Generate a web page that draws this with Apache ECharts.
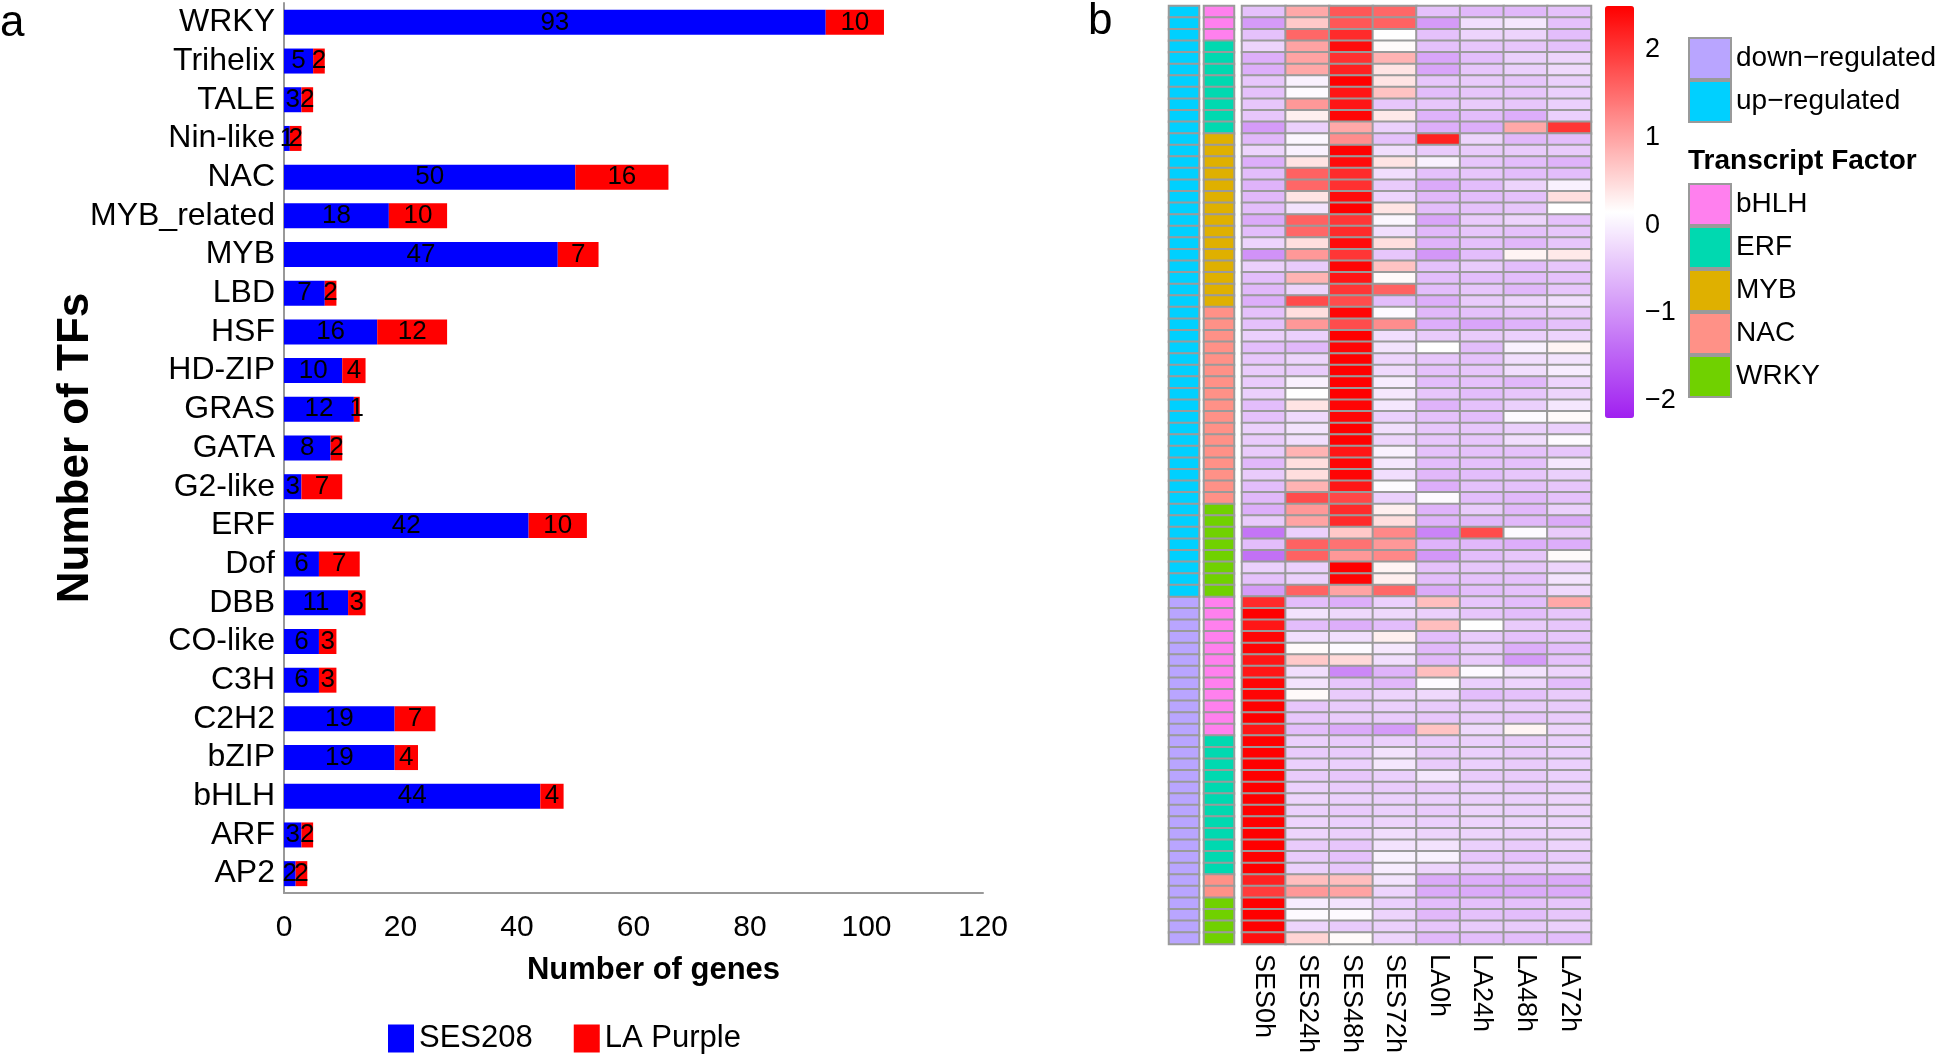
<!DOCTYPE html>
<html><head><meta charset="utf-8">
<script src="https://cdn.jsdelivr.net/npm/echarts@6/dist/echarts.min.js"></script>
<style>html,body{margin:0;padding:0;background:#fff}#c{width:1944px;height:1058px}</style>
</head><body><div id="c"></div>
<script>
// ---------- Panel a: stacked bars ----------
const tfCategories = ['WRKY','Trihelix','TALE','Nin-like','NAC','MYB_related','MYB','LBD','HSF','HD-ZIP','GRAS','GATA','G2-like','ERF','Dof','DBB','CO-like','C3H','C2H2','bZIP','bHLH','ARF','AP2'];
const ses208   = [93,5,3,1,50,18,47,7,16,10,12,8,3,42,6,11,6,6,19,19,44,3,2];
const laPurple = [10,2,2,2,16,10,7,2,12,4,1,2,7,10,7,3,3,3,7,4,4,2,2];

// ---------- Panel b: heatmap ----------
const sampleNames = ['SES0h','SES24h','SES48h','SES72h','LA0h','LA24h','LA48h','LA72h'];
const SES0h = [-0.5,-0.9,-0.5,-0.3,-0.7,-0.7,-0.45,-0.5,-0.45,-0.45,
 -0.9,-0.6,-0.3,-0.7,-0.55,-0.65,-0.6,-0.55,-0.75,-0.55,
 -0.3,-1.0,-0.35,-0.55,-0.6,-0.7,-0.5,-0.5,-0.35,-0.55,
 -0.45,-0.4,-0.4,-0.35,-0.55,-0.5,-0.35,-0.4,-0.4,-0.6,
 -0.4,-0.55,-0.6,-0.7,-0.4,-1.3,-0.55,-1.35,-0.35,-0.5,
 -0.9,2.1,2.5,2.3,2.45,2.45,2.3,2.3,2.45,2.45,
 2.5,2.5,2.3,2.5,2.5,2.5,2.5,2.5,2.5,2.5,
 2.5,2.5,2.5,2.5,2.5,2.2,1.95,2.5,2.5,2.5,2.35];
const SES24h = [0.95,0.65,1.55,1.0,1.0,0.95,0.0,0.1,1.1,0.3,
 -0.35,0.05,0.0,0.4,1.6,1.55,0.4,-0.15,1.6,1.55,
 0.45,1.1,-0.4,0.85,-0.3,1.8,0.45,1.1,-0.35,-0.6,
 -0.3,-0.4,0.0,0.15,0.4,-0.25,-0.15,-0.2,0.85,0.45,
 0.45,0.85,1.8,1.1,1.0,-0.35,1.6,1.6,-0.35,-0.35,
 1.6,-0.55,-0.15,-0.55,-0.2,0.2,0.65,-0.2,-0.15,0.2,
 -0.45,-0.45,-0.55,-0.35,-0.4,-0.35,-0.4,-0.35,-0.3,-0.35,
 -0.3,-0.3,-0.4,-0.4,-0.35,0.75,1.1,-0.05,0.1,-0.3,0.55];
const SES48h = [1.7,1.7,2.1,2.4,2.05,2.2,2.5,2.3,2.3,2.45,
 0.95,1.2,2.5,2.4,2.1,2.05,2.4,2.5,2.0,2.1,
 2.4,2.0,2.45,2.3,2.0,1.8,2.45,1.8,2.5,2.45,
 2.5,2.5,2.5,2.5,2.45,2.45,2.5,2.5,2.3,2.45,
 2.45,2.3,1.85,2.1,2.1,0.65,1.45,1.1,2.5,2.45,
 1.0,-0.7,-0.25,-0.7,-0.2,0.1,0.5,-1.1,-0.45,-0.4,
 -0.4,-0.4,-0.75,-0.4,-0.4,-0.35,-0.45,-0.4,-0.35,-0.4,
 -0.35,-0.35,-0.45,-0.5,-0.45,0.75,1.0,-0.15,0.1,-0.4,0.2];
const SES72h = [1.55,1.6,0.15,0.2,0.85,0.4,0.4,0.7,-0.45,0.35,
 -0.35,-0.5,-0.2,0.4,-0.2,-0.4,-0.3,0.4,0.05,-0.2,
 0.45,-0.45,0.7,0.2,1.6,-0.55,0.1,1.2,-0.2,-0.15,
 -0.3,-0.25,-0.05,-0.1,-0.1,-0.35,-0.2,-0.3,0.0,-0.1,
 -0.2,0.1,-0.35,0.3,0.45,1.25,1.1,1.25,0.25,0.3,
 1.55,-0.35,-0.25,-0.55,0.3,-0.1,-0.2,-0.65,-0.6,-0.3,
 -0.35,-0.4,-0.9,-0.35,-0.15,-0.1,-0.35,-0.4,-0.35,-0.35,
 -0.3,-0.2,-0.15,0.0,-0.05,-0.15,-0.3,-0.35,-0.3,-0.35,-0.3];
const LA0h = [-0.5,-0.9,-0.5,-0.5,-0.8,-0.8,-0.45,-0.55,-0.45,-0.65,
 -0.7,2.2,-0.4,0.0,-0.5,-0.75,-0.6,-0.55,-0.8,-0.6,
 -0.65,-0.95,-0.5,-0.55,-0.55,-0.7,-0.6,-0.7,-0.4,0.15,
 -0.45,-0.5,-0.55,-0.45,-0.65,-0.5,-0.45,-0.45,-0.5,-0.55,
 -0.6,-0.7,0.1,-0.65,-0.65,-1.15,-0.65,-0.95,-0.5,-0.55,
 -0.75,0.75,-0.35,0.75,-0.55,-0.6,-0.6,0.75,0.1,-0.25,
 -0.4,-0.45,0.7,-0.4,-0.4,-0.4,-0.1,-0.4,-0.35,-0.4,
 -0.35,-0.3,-0.15,0.0,-0.3,-0.75,-0.75,-0.55,-0.6,-0.45,-0.6];
const LA24h = [-0.6,-0.2,-0.3,-0.45,-0.55,-0.45,-0.4,-0.45,-0.4,-0.55,
 -0.7,-0.3,-0.4,-0.45,-0.45,-0.55,-0.55,-0.5,-0.4,-0.45,
 -0.5,-0.55,-0.4,-0.55,-0.45,-0.4,-0.5,-0.8,-0.4,-0.55,
 -0.5,-0.45,-0.5,-0.55,-0.5,-0.55,-0.45,-0.45,-0.5,-0.5,
 -0.55,-0.5,-0.55,-0.4,-0.6,1.8,-0.6,-0.55,-0.45,-0.5,
 -0.55,-0.45,-0.45,0.15,-0.4,-0.4,-0.4,0.1,-0.35,-0.55,
 -0.4,-0.4,-0.25,-0.35,-0.35,-0.35,-0.4,-0.35,-0.35,-0.3,
 -0.3,-0.3,-0.35,-0.45,-0.4,-0.7,-0.75,-0.5,-0.5,-0.4,-0.55];
const LA48h = [-0.6,-0.1,-0.3,-0.45,-0.35,-0.35,-0.45,-0.45,-0.45,-0.7,
 0.95,-0.6,-0.4,-0.55,-0.55,-0.3,-0.5,-0.45,-0.3,-0.5,
 -0.6,0.25,-0.55,-0.55,-0.6,-0.3,-0.45,-0.65,-0.35,0.0,
 -0.2,-0.2,-0.6,-0.45,-0.35,0.1,-0.35,-0.2,-0.5,-0.5,
 -0.45,-0.5,-0.6,-0.6,-0.6,0.1,-0.7,-0.45,-0.45,-0.5,
 -0.5,-0.55,-0.55,-0.4,-0.5,-0.7,-0.9,-0.15,-0.3,-0.5,
 -0.4,-0.45,0.25,-0.4,-0.4,-0.4,-0.4,-0.4,-0.35,-0.35,
 -0.3,-0.35,-0.4,-0.5,-0.4,-0.75,-0.75,-0.5,-0.55,-0.4,-0.55];
const LA72h = [-0.5,-0.5,-0.55,-0.5,-0.3,-0.25,-0.35,-0.35,-0.35,-0.35,
 2.0,-0.55,-0.4,-0.65,-0.55,0.0,0.45,0.15,-0.5,-0.45,
 -0.45,0.35,-0.45,-0.5,-0.45,-0.2,-0.4,-0.5,-0.3,0.25,
 -0.15,-0.05,-0.3,-0.3,-0.1,0.2,-0.35,0.1,-0.45,-0.1,
 -0.35,-0.45,-0.5,-0.35,-0.75,-0.4,-0.7,0.2,-0.3,-0.15,
 -0.25,0.95,-0.45,-0.45,-0.45,-0.55,-0.5,-0.3,-0.55,-0.4,
 -0.4,-0.4,-0.3,-0.35,-0.35,-0.35,-0.35,-0.35,-0.3,-0.3,
 -0.3,-0.3,-0.3,-0.4,-0.35,-0.75,-0.75,-0.45,-0.45,-0.35,-0.55];
const sampleValues = [SES0h, SES24h, SES48h, SES72h, LA0h, LA24h, LA48h, LA72h];

// row annotations, as consecutive blocks (top to bottom): [label, number of rows]
const regulationBlocks = [['up\u2212regulated', 51], ['down\u2212regulated', 30]];
const tfBlocks = [['bHLH',3],['ERF',8],['MYB',15],['NAC',17],['WRKY',8],['bHLH',12],['ERF',12],['NAC',2],['WRKY',4]];
const regulationLegend = ['down\u2212regulated', 'up\u2212regulated'];
const tfLegend = ['bHLH','ERF','MYB','NAC','WRKY'];
const regulationColors = {'down\u2212regulated':'#B9A5FF', 'up\u2212regulated':'#00D0FF'};
const tfColors = {bHLH:'#FF80EE', ERF:'#00D9B0', MYB:'#DFB000', NAC:'#FF9187', WRKY:'#70D100'};
const colorbarTicks = [-2, -1, 0, 1, 2];
const colorMin = -2.2, colorMax = 2.5;

// ---------- build ----------
function expand(blocks) { const out = []; blocks.forEach(([k, n]) => { for (let i = 0; i < n; i++) out.push(k); }); return out; }
const regulation = expand(regulationBlocks);
const tfFamily = expand(tfBlocks);
const rowIds = regulation.map((_, i) => 'g' + (i + 1));

const FONT = "'Liberation Sans', Arial, sans-serif";
const BORDER = '#9a9a9a';
const series = [];
series.push({ name:'SES208', type:'bar', stack:'n', xAxisIndex:0, yAxisIndex:0, data:ses208, barWidth:25,
  itemStyle:{color:'#0000FF'}, label:{show:true, position:'inside', color:'#000', fontSize:26, fontFamily:FONT} });
series.push({ name:'LA Purple', type:'bar', stack:'n', xAxisIndex:0, yAxisIndex:0, data:laPurple, barWidth:25,
  itemStyle:{color:'#FF0000'}, label:{show:true, position:'inside', color:'#000', fontSize:26, fontFamily:FONT} });

regulationLegend.forEach(name => {
  const d = []; regulation.forEach((r, i) => { if (r === name) d.push([0, i, 1]); });
  series.push({ name, type:'heatmap', xAxisIndex:1, yAxisIndex:1, data:d,
    itemStyle:{color:regulationColors[name], borderColor:BORDER, borderWidth:2}, emphasis:{disabled:true} });
});
tfLegend.forEach(name => {
  const d = []; tfFamily.forEach((r, i) => { if (r === name) d.push([0, i, 1]); });
  series.push({ name, type:'heatmap', xAxisIndex:2, yAxisIndex:2, data:d,
    itemStyle:{color:tfColors[name], borderColor:BORDER, borderWidth:2}, emphasis:{disabled:true} });
});
const heatData = [];
sampleValues.forEach((col, c) => col.forEach((v, r) => heatData.push([c, r, v])));
const mainIdx = series.length;
series.push({ name:'expression', type:'heatmap', xAxisIndex:3, yAxisIndex:3, data:heatData,
  itemStyle:{borderColor:BORDER, borderWidth:2}, emphasis:{disabled:true} });

const hiddenCat = (grid, data) => ({ type:'category', gridIndex:grid, data, show:false, inverse:true });

const option = {
  animation:false,
  textStyle:{fontFamily:FONT, color:'#000'},
  title:[
    {text:'a', left:0, top:2, padding:0, textStyle:{fontSize:44, fontWeight:'normal', fontFamily:FONT, color:'#000'}},
    {text:'b', left:1088, top:0, padding:0, textStyle:{fontSize:44, fontWeight:'normal', fontFamily:FONT, color:'#000'}},
    {text:'Transcript Factor', left:1688, top:147, padding:0, textStyle:{fontSize:28, fontWeight:'bold', fontFamily:FONT, color:'#000'}}
  ],
  grid:[
    {left:284, top:3, width:699, height:890},
    {left:1169, top:6, width:30, height:938},
    {left:1204, top:6, width:30, height:938},
    {left:1242, top:6, width:349, height:938},
    {left:1634, top:6, width:1, height:412}
  ],
  xAxis:[
    {type:'value', gridIndex:0, min:0, max:120, interval:20,
     axisLine:{show:true, lineStyle:{color:'#999', width:2}}, axisTick:{show:false}, splitLine:{show:false},
     axisLabel:{fontSize:30, color:'#000', margin:20, fontFamily:FONT},
     name:'Number of genes', nameLocation:'middle', nameGap:62, nameMoveOverlap:false,
     nameTextStyle:{fontSize:31, fontWeight:'bold', color:'#000', fontFamily:FONT, padding:[0,0,0,40]}},
    {type:'category', gridIndex:1, data:['regulation'], show:false},
    {type:'category', gridIndex:2, data:['tf'], show:false},
    {type:'category', gridIndex:3, data:sampleNames, position:'bottom',
     axisLine:{show:false}, axisTick:{show:false},
     axisLabel:{rotate:-90, fontSize:27, color:'#000', margin:10, interval:0, fontFamily:FONT}},
    {type:'value', gridIndex:4, show:false}
  ],
  yAxis:[
    {type:'category', gridIndex:0, data:tfCategories, inverse:true,
     axisLine:{show:true, lineStyle:{color:'#999', width:2}}, axisTick:{show:false},
     axisLabel:{fontSize:32, color:'#000', margin:9, interval:0, fontFamily:FONT},
     name:'Number of TFs', nameLocation:'middle', nameRotate:90, nameGap:186, nameMoveOverlap:false,
     nameTextStyle:{fontSize:44, fontWeight:'bold', color:'#000', fontFamily:FONT}},
    hiddenCat(1, rowIds),
    hiddenCat(2, rowIds),
    hiddenCat(3, rowIds),
    {type:'value', gridIndex:4, min:colorMin, max:colorMax, position:'right',
     axisLine:{show:false}, axisTick:{show:false}, splitLine:{show:false},
     axisLabel:{customValues:colorbarTicks, fontSize:27, color:'#000', margin:10, fontFamily:FONT,
       formatter: v => String(v).replace('-', '\u2212')}}
  ],
  visualMap:[{
    type:'continuous', seriesIndex:mainIdx, dimension:2, min:colorMin, max:colorMax,
    inRange:{color:['#A020F0','#FFFFFF','#FF0000']}, calculable:false, hoverLink:false,
    orient:'vertical', left:1605, top:6, itemWidth:29, itemHeight:412, padding:0, text:null
  }],
  legend:[
    {data:['SES208','LA Purple'], left:388, top:1023, padding:0, itemWidth:26, itemHeight:28, itemGap:41,
     icon:'rect', selectedMode:false, textStyle:{fontSize:31, color:'#000', fontFamily:FONT}},
    {data:regulationLegend, orient:'vertical', left:1688, top:37, padding:0, itemWidth:42, itemHeight:41, itemGap:0,
     icon:'rect', selectedMode:false, itemStyle:{borderColor:BORDER, borderWidth:2},
     textStyle:{fontSize:28, color:'#000', fontFamily:FONT}},
    {data:tfLegend, orient:'vertical', left:1688, top:183, padding:0, itemWidth:42, itemHeight:41, itemGap:0,
     icon:'rect', selectedMode:false, itemStyle:{borderColor:BORDER, borderWidth:2},
     textStyle:{fontSize:28, color:'#000', fontFamily:FONT}}
  ],
  series
};
const chart = echarts.init(document.getElementById('c'), null, {renderer:'canvas'});
chart.setOption(option);
</script></body></html>
